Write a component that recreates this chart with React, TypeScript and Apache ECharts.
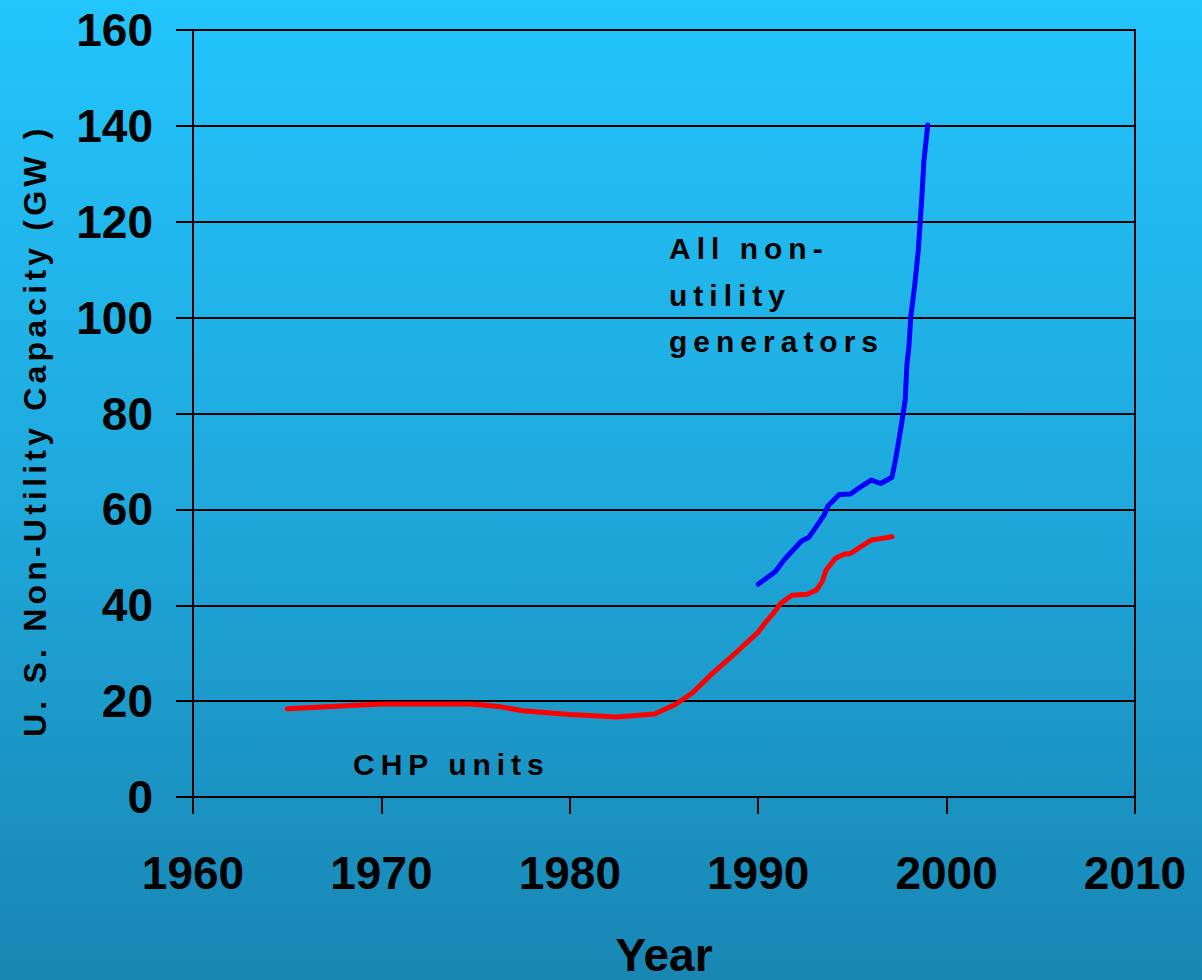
import React, { useEffect, useRef } from "react";
import * as echarts from "echarts";

// ---- data ----
const xTicks = [1960, 1970, 1980, 1990, 2000, 2010];
const yTicks = [0, 20, 40, 60, 80, 100, 120, 140, 160];

const chpYears = [1965, 1970, 1974.8, 1976.2, 1977.5, 1980, 1982.5, 1984.5, 1985.6, 1986.5, 1987.6, 1988.9, 1990, 1990.4, 1990.8, 1991.2, 1991.8, 1992.6, 1993.1, 1993.4, 1993.6, 1994.1, 1994.6, 1994.9, 1995.4, 1996, 1996.5, 1997.1];
const chpValues = [18.4, 19.4, 19.4, 18.9, 18.0, 17.2, 16.7, 17.3, 19.3, 21.7, 25.9, 30.4, 34.4, 36.5, 38.3, 40.4, 42.1, 42.3, 43.2, 45.0, 47.3, 49.8, 50.7, 50.8, 52.1, 53.6, 53.9, 54.3];

const allYears = [1990.0, 1990.9, 1991.4, 1992.3, 1992.7, 1993.1, 1993.5, 1993.7, 1994.3, 1994.9, 1995.4, 1996.0, 1996.5, 1997.1, 1997.3, 1997.6, 1997.8, 1997.9, 1998.0, 1998.1, 1998.3, 1998.5, 1998.7, 1998.8, 1999.0];
const allValues = [44.4, 47.0, 49.6, 53.4, 54.2, 56.5, 58.8, 60.7, 63.1, 63.2, 64.6, 66.1, 65.4, 66.7, 70.6, 77.6, 82.8, 90.5, 93.9, 100.2, 106.5, 114.1, 126.0, 132.9, 140.2];

const yTitle = "U. S. Non-Utility Capacity (GW )";
const xTitle = "Year";
const allLabel = "All non-\nutility\ngenerators";
const chpLabel = "CHP units";

const FONT = '"Liberation Sans", Arial, Helvetica, sans-serif';

export default function App() {
  const ref = useRef<HTMLDivElement>(null);

  useEffect(() => {
    if (!ref.current) return;
    const chart = echarts.init(ref.current, undefined, { renderer: "svg" });

    const option: any = {
      animation: false,
      backgroundColor: "transparent",
      grid: {
        left: 193,
        right: 67,
        top: 30,
        bottom: 183,
        show: true,
        borderColor: "#000",
        borderWidth: 2,
        backgroundColor: "transparent",
      },
      xAxis: {
        type: "value",
        min: xTicks[0],
        max: xTicks[xTicks.length - 1],
        interval: 10,
        axisLine: { show: true, lineStyle: { color: "#000", width: 2 } },
        axisTick: { show: true, inside: false, length: 17, lineStyle: { color: "#000", width: 2 } },
        splitLine: { show: false },
        axisLabel: {
          color: "#000",
          fontFamily: FONT,
          fontWeight: "bold",
          fontSize: 46,
          margin: 53,
          formatter: (v: number) => String(v),
        },
      },
      yAxis: {
        type: "value",
        min: yTicks[0],
        max: yTicks[yTicks.length - 1],
        interval: 20,
        axisLine: { show: true, lineStyle: { color: "#000", width: 2 } },
        axisTick: { show: true, inside: false, length: 17, lineStyle: { color: "#000", width: 2 } },
        splitLine: { show: true, lineStyle: { color: "#000", width: 2 } },
        axisLabel: {
          color: "#000",
          fontFamily: FONT,
          fontWeight: "bold",
          fontSize: 46,
          margin: 40,
        },
      },
      series: [
        {
          name: "CHP units",
          type: "line",
          data: chpYears.map((y, i) => [y, chpValues[i]]),
          showSymbol: false,
          lineStyle: { color: "#ff0000", width: 5, cap: "round", join: "round" },
          itemStyle: { color: "#ff0000" },
        },
        {
          name: "All non-utility generators",
          type: "line",
          data: allYears.map((y, i) => [y, allValues[i]]),
          showSymbol: false,
          lineStyle: { color: "#0000ff", width: 5, cap: "round", join: "round" },
          itemStyle: { color: "#0000ff" },
        },
      ],
      graphic: [
        {
          type: "text",
          x: 35,
          y: 737,
          rotation: Math.PI / 2,
          style: {
            text: yTitle,
            font: `bold 32px ${FONT}`,
            fill: "#000",
            align: "left",
            verticalAlign: "middle",
            textAlign: "left",
            textVerticalAlign: "middle",
          },
        },
        {
          type: "text",
          x: 664,
          y: 955,
          style: {
            text: xTitle,
            font: `bold 46px ${FONT}`,
            fill: "#000",
            align: "center",
            verticalAlign: "middle",
            textAlign: "center",
            textVerticalAlign: "middle",
          },
        },
        {
          type: "text",
          x: 669,
          y: 295,
          style: {
            text: allLabel,
            font: `bold 30px ${FONT}`,
            lineHeight: 46.5,
            fill: "#000",
            align: "left",
            verticalAlign: "middle",
            textAlign: "left",
            textVerticalAlign: "middle",
          },
        },
        {
          type: "text",
          x: 353,
          y: 764,
          style: {
            text: chpLabel,
            font: `bold 30px ${FONT}`,
            fill: "#000",
            align: "left",
            verticalAlign: "middle",
            textAlign: "left",
            textVerticalAlign: "middle",
          },
        },
      ],
    };

    chart.setOption(option);

    const spacing: Record<string, string> = {
      [yTitle]: "4.2px",
      "All non-": "6px",
      "utility": "6px",
      "generators": "6px",
      [chpLabel]: "6px",
    };
    const patch = () => {
      const root = ref.current;
      if (!root) return;
      root.querySelectorAll("text, tspan").forEach((t: any) => {
        const s = (t.textContent || "").trim();
        if (spacing[s]) t.style.letterSpacing = spacing[s];
      });
    };
    patch();
    chart.on("finished", patch);
    const raf = requestAnimationFrame(patch);

    return () => {
      cancelAnimationFrame(raf);
      chart.dispose();
    };
  }, []);

  return (
    <div
      style={{
        position: "absolute",
        left: 0,
        top: 0,
        width: 1202,
        height: 980,
        background: "linear-gradient(180deg, #23c5fd 0%, #1fa9dc 50%, #1886b3 100%)",
        overflow: "hidden",
      }}
    >
      <div ref={ref} style={{ width: 1202, height: 980 }} />
    </div>
  );
}
